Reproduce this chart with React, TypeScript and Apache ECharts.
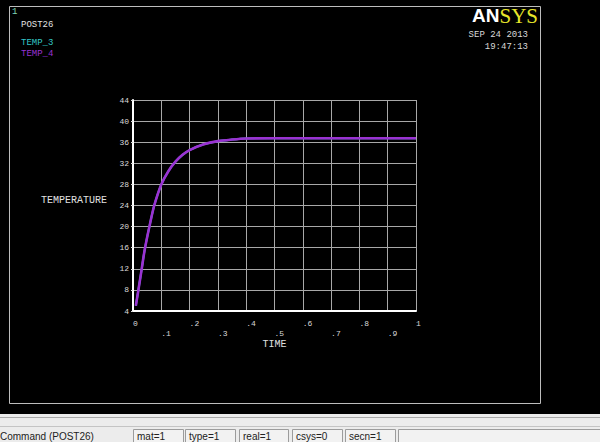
import React, { useEffect, useRef } from "react";
import * as echarts from "echarts";

// TIME (s) and temperature readings of the two curves (TEMP_3 lies under TEMP_4)
const timeValues = [0.01, 0.02, 0.03, 0.04, 0.05, 0.06, 0.075, 0.1, 0.125, 0.15, 0.175, 0.2, 0.25, 0.3, 0.35, 0.4, 0.5, 0.6, 0.7, 0.8, 0.9, 1];
const temp3Values = [5, 8.3, 11.7, 15.2, 18, 20.5, 24, 28, 30.5, 32.3, 33.6, 34.5, 35.6, 36.2, 36.5, 36.7, 36.75, 36.75, 36.75, 36.75, 36.75, 36.75];
const temp4Values = [5, 8.3, 11.7, 15.2, 18, 20.5, 24, 28, 30.5, 32.3, 33.6, 34.5, 35.6, 36.2, 36.5, 36.7, 36.75, 36.75, 36.75, 36.75, 36.75, 36.75];

const seriesNames = ["TEMP_3", "TEMP_4"];
const seriesColors = ["#33c6c6", "#9a32d2"];
const statusFields = ["mat=1", "type=1", "real=1", "csys=0", "secn=1", ""];
const statusX = [133, 185, 239, 292, 345, 398];
const statusW = [50, 50, 49, 50, 50, 210];

const MONO = "'Liberation Mono', 'DejaVu Sans Mono', monospace";
const UI = "'Liberation Sans', Arial, sans-serif";

function fmtTime(v: number): string {
  if (v === 0) return "0";
  if (v >= 1) return "1";
  return "." + Math.round(v * 10);
}

export default function App() {
  const ref = useRef<HTMLDivElement>(null);
  useEffect(() => {
    if (!ref.current) return;
    const chart = echarts.init(ref.current, null, { renderer: "svg" });
    const graphic: any[] = [
      { type: "rect", silent: true, shape: { x: 9.5, y: 6.5, width: 531, height: 397 }, style: { fill: "none", stroke: "#bdbdbd", lineWidth: 1 } },
      { type: "text", silent: true, style: { text: "1", x: 12, y: 12, fill: "#7fd8b4", font: `9px ${MONO}`, verticalAlign: "middle" } },
      { type: "text", silent: true, style: { text: "POST26", x: 21, y: 25, fill: "#e0e0e0", font: `9px ${MONO}`, verticalAlign: "middle" } },
      { type: "text", silent: true, style: { text: seriesNames[0], x: 21, y: 42.5, fill: seriesColors[0], font: `9px ${MONO}`, verticalAlign: "middle" } },
      { type: "text", silent: true, style: { text: seriesNames[1], x: 21, y: 53.5, fill: seriesColors[1], font: `9px ${MONO}`, verticalAlign: "middle" } },
      {
        type: "text", silent: true,
        style: {
          text: "{a|AN}{b|SYS}", x: 538, y: 15.5, align: "right", verticalAlign: "middle",
          rich: {
            a: { fill: "#ffffff", fontFamily: UI, fontWeight: "bold", fontSize: 19 },
            b: { fill: "#e6e62a", fontFamily: "'Liberation Serif', serif", fontSize: 21 },
          },
        },
      },
      { type: "text", silent: true, style: { text: "SEP 24 2013", x: 528, y: 35, align: "right", fill: "#d8d8d8", font: `9px ${MONO}`, verticalAlign: "middle" } },
      { type: "text", silent: true, style: { text: "19:47:13", x: 528, y: 46.5, align: "right", fill: "#d8d8d8", font: `9px ${MONO}`, verticalAlign: "middle" } },
      // status bar
      { type: "rect", silent: true, shape: { x: 0, y: 414, width: 600, height: 28 }, style: { fill: "#ececec" } },
      { type: "line", silent: true, shape: { x1: 0, y1: 417.5, x2: 600, y2: 417.5 }, style: { stroke: "#a9a9a9", lineWidth: 1 } },
      { type: "line", silent: true, shape: { x1: 0, y1: 426.5, x2: 600, y2: 426.5 }, style: { stroke: "#c4c4c4", lineWidth: 1 } },
      { type: "text", silent: true, style: { text: "Command (POST26)", x: 0, y: 436, fill: "#222", font: `10px ${UI}`, verticalAlign: "middle" } },
    ];
    statusFields.forEach((f, i) => {
      graphic.push({ type: "rect", silent: true, shape: { x: statusX[i] + 0.5, y: 429.5, width: statusW[i], height: 16 }, style: { fill: "#f2f2f2", stroke: "#9c9c9c", lineWidth: 1 } });
      if (f) graphic.push({ type: "text", silent: true, style: { text: f, x: statusX[i] + 4, y: 436, fill: "#222", font: `10px ${UI}`, verticalAlign: "middle" } });
    });

    const makeSeries = (name: string, vals: number[], color: string, w: number) => ({
      name,
      type: "line",
      data: timeValues.map((t, i) => [t, vals[i]]),
      smooth: 0.3,
      showSymbol: false,
      lineStyle: { color, width: w },
      itemStyle: { color },
      z: 3,
    });

    chart.setOption({
      animation: false,
      backgroundColor: "#000",
      grid: { left: 133, top: 100, width: 283, height: 211, containLabel: false },
      xAxis: {
        type: "value", min: 0, max: 1, interval: 0.1,
        name: "TIME", nameLocation: "middle", nameGap: 28,
        nameTextStyle: { color: "#e0e0e0", fontFamily: MONO, fontSize: 10 },
        axisLine: { show: true, onZero: false, lineStyle: { color: "#ffffff", width: 2 } },
        axisTick: { show: false },
        splitLine: { show: true, lineStyle: { color: "#a8a8a8", width: 1 } },
        axisLabel: {
          color: "#d8d8d8", fontFamily: MONO, fontSize: 8, lineHeight: 10, margin: 7, align: "left",
          formatter: (v: number) => {
            const idx = Math.round(v * 10);
            return idx % 2 === 1 ? "\n" + fmtTime(v) : fmtTime(v);
          },
        },
      },
      yAxis: {
        type: "value", min: 4, max: 44, interval: 4,
        name: "TEMPERATURE", nameLocation: "middle", nameRotate: 0, nameGap: 26,
        nameTextStyle: { color: "#e0e0e0", fontFamily: MONO, fontSize: 10, verticalAlign: "bottom" },
        axisLine: { show: true, onZero: false, lineStyle: { color: "#ffffff", width: 2 } },
        axisTick: { show: true, length: 2, lineStyle: { color: "#d8d8d8" } },
        splitLine: { show: true, lineStyle: { color: "#a8a8a8", width: 1 } },
        axisLabel: { color: "#d8d8d8", fontFamily: MONO, fontSize: 8, margin: 4, padding: [0, 0, 6, 0] },
      },
      series: [
        makeSeries(seriesNames[0], temp3Values, seriesColors[0], 2),
        makeSeries(seriesNames[1], temp4Values, seriesColors[1], 2.6),
      ],
      graphic,
    });
    return () => chart.dispose();
  }, []);
  return <div ref={ref} style={{ position: "fixed", left: 0, top: 0, width: 600, height: 442 }} />;
}
